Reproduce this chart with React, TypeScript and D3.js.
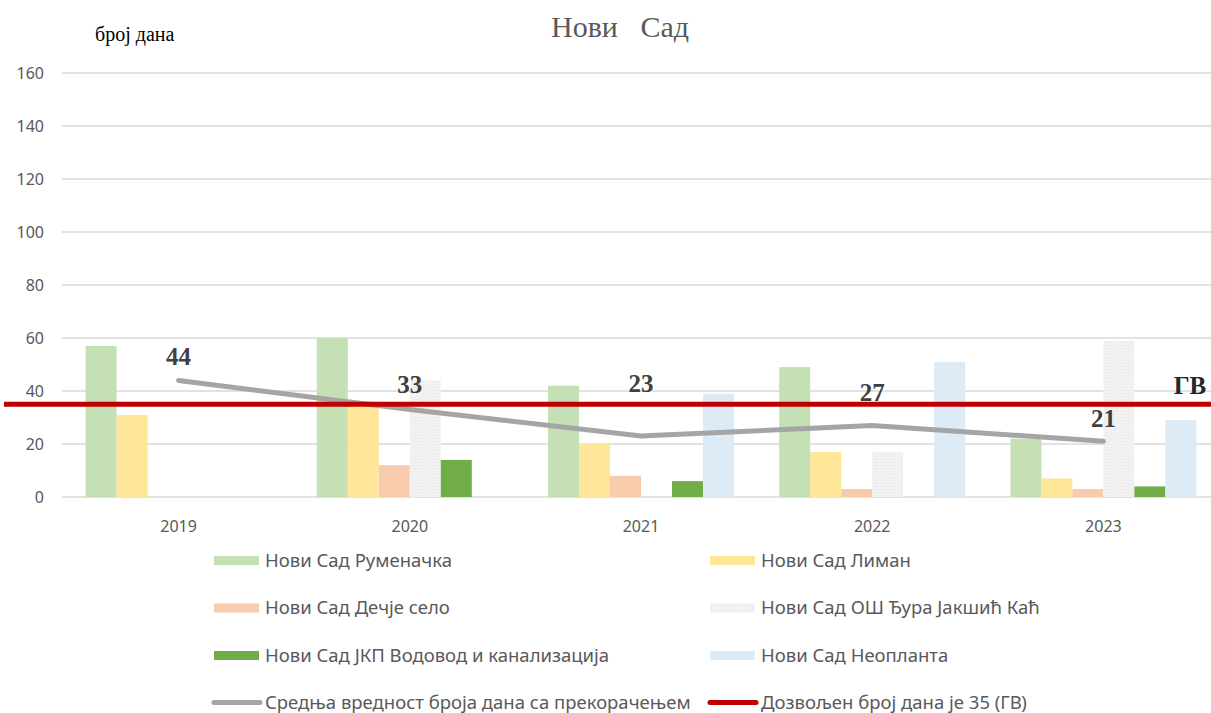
import React from 'react';
import * as d3 from 'd3';

const years = ['2019', '2020', '2021', '2022', '2023'];
const seriesNames = [
  'Нови Сад Руменачка',
  'Нови Сад Лиман',
  'Нови Сад Дечје село',
  'Нови Сад ОШ Ђура Јакшић Каћ',
  'Нови Сад ЈКП Водовод и канализација',
  'Нови Сад Неопланта',
];
const rumenacka = [57, 60, 42, 49, 22];
const liman = [31, 36, 20, 17, 7];
const decjeSelo = [0, 12, 8, 3, 3];
const osDjura = [0, 44, 0, 17, 59];
const vodovod = [0, 14, 6, 0, 4];
const neoplanta = [0, 0, 39, 51, 29];
const average = [44, 33, 23, 27, 21];
const limitValue = 35;
const yTicks = [0, 20, 40, 60, 80, 100, 120, 140, 160];

const avgName = 'Средња вредност броја дана са прекорачењем';
const limitName = 'Дозвољен број дана је 35 (ГВ)';

const colors = ['#C5E0B4', '#FFE699', '#F8CBAD', '#F0F0F0', '#70AD47', '#DDEBF7'];
// data labels were placed by hand in the original, so they sit at different heights
const labelLift = [24, 26, 53, 33, 23];

export default function App() {
  const width = 1211;
  const height = 713;
  const values = [rumenacka, liman, decjeSelo, osDjura, vodovod, neoplanta];

  const y = d3.scaleLinear().domain([0, 160]).range([497, 73]);
  const x0 = d3.scaleBand().domain(years).range([63, 1219]).padding(0);
  const bw = x0.bandwidth();
  const groupW = 186;
  const x1 = d3
    .scaleBand()
    .domain(seriesNames)
    .range([(bw - groupW) / 2, (bw + groupW) / 2]);

  const cx = (yr: string) => (x0(yr) as number) + bw / 2;
  const line = d3
    .line<number>()
    .x((d, i) => cx(years[i]))
    .y((d) => y(d));

  const grey = '#595959';
  const sans = '"Noto Sans", "Liberation Sans", sans-serif';
  const serif = '"Liberation Serif", "DejaVu Serif", serif';

  const legendItems = [
    ...seriesNames.map((n, i) => ({ name: n, kind: 'bar', color: colors[i] })),
    { name: avgName, kind: 'line', color: '#A5A5A5' },
    { name: limitName, kind: 'line', color: '#C00000' },
  ];

  return (
    <svg
      width={width}
      height={height}
      style={{ position: 'absolute', left: 0, top: 0, background: '#fff' }}
    >
      <defs>
        <pattern id="dots" width="3" height="3" patternUnits="userSpaceOnUse">
          <rect width="3" height="3" fill="#F2F2F2" />
          <rect width="1" height="1" fill="#E4E4E4" />
        </pattern>
      </defs>

      <text x={620} y={37} textAnchor="middle" fontFamily={serif} fontSize={30} fill={grey} style={{ whiteSpace: 'pre' }}>
        {'Нови   Сад'}
      </text>
      <text x={95} y={41} fontFamily={serif} fontSize={20} fill="#000">
        број дана
      </text>

      {yTicks.map((t) => (
        <g key={t}>
          <line x1={62} x2={1211} y1={y(t)} y2={y(t)} stroke="#D9D9D9" strokeWidth={1.5} />
          <text x={44} y={y(t) + 6} textAnchor="end" fontFamily={sans} fontSize={16} fill={grey}>
            {t}
          </text>
        </g>
      ))}

      {years.map((yr, yi) => (
        <g key={yr} transform={`translate(${x0(yr)},0)`}>
          {seriesNames.map((s, si) => {
            const v = values[si][yi];
            return (
              <rect
                key={s}
                x={x1(s)}
                y={y(v)}
                width={x1.bandwidth()}
                height={y(0) - y(v)}
                fill={si === 3 ? 'url(#dots)' : colors[si]}
              />
            );
          })}
          <text x={bw / 2} y={532} textAnchor="middle" fontFamily={sans} fontSize={16} fill={grey}>
            {yr}
          </text>
        </g>
      ))}

      <path d={line(average) || ''} fill="none" stroke="#A5A5A5" strokeWidth={5} strokeLinecap="round" />
      <line x1={4} x2={1211} y1={y(limitValue)} y2={y(limitValue)} stroke="#C00000" strokeWidth={5} />

      {average.map((v, i) => (
        <text
          key={i}
          x={cx(years[i])}
          y={y(v) - labelLift[i] + 9}
          textAnchor="middle"
          fontFamily={serif}
          fontWeight="bold"
          fontSize={25}
          fill="#404040"
        >
          {v}
        </text>
      ))}
      <text x={1190} y={394} textAnchor="middle" fontFamily={serif} fontWeight="bold" fontSize={25} fill="#262626">
        ГВ
      </text>

      {legendItems.map((it, i) => {
        const col = i % 2;
        const row = Math.floor(i / 2);
        const lx = col === 0 ? 214 : 710;
        const ly = 560 + row * 47.5;
        return (
          <g key={it.name}>
            {it.kind === 'bar' ? (
              <rect x={lx} y={ly - 4} width={45} height={9} fill={i === 3 ? 'url(#dots)' : it.color} />
            ) : (
              <line x1={lx} x2={lx + 46} y1={ly} y2={ly} stroke={it.color} strokeWidth={5} strokeLinecap="round" />
            )}
            <text x={lx + 51} y={ly + 6.5} fontFamily={sans} fontSize={18.5} fill={grey}>
              {it.name}
            </text>
          </g>
        );
      })}
    </svg>
  );
}
